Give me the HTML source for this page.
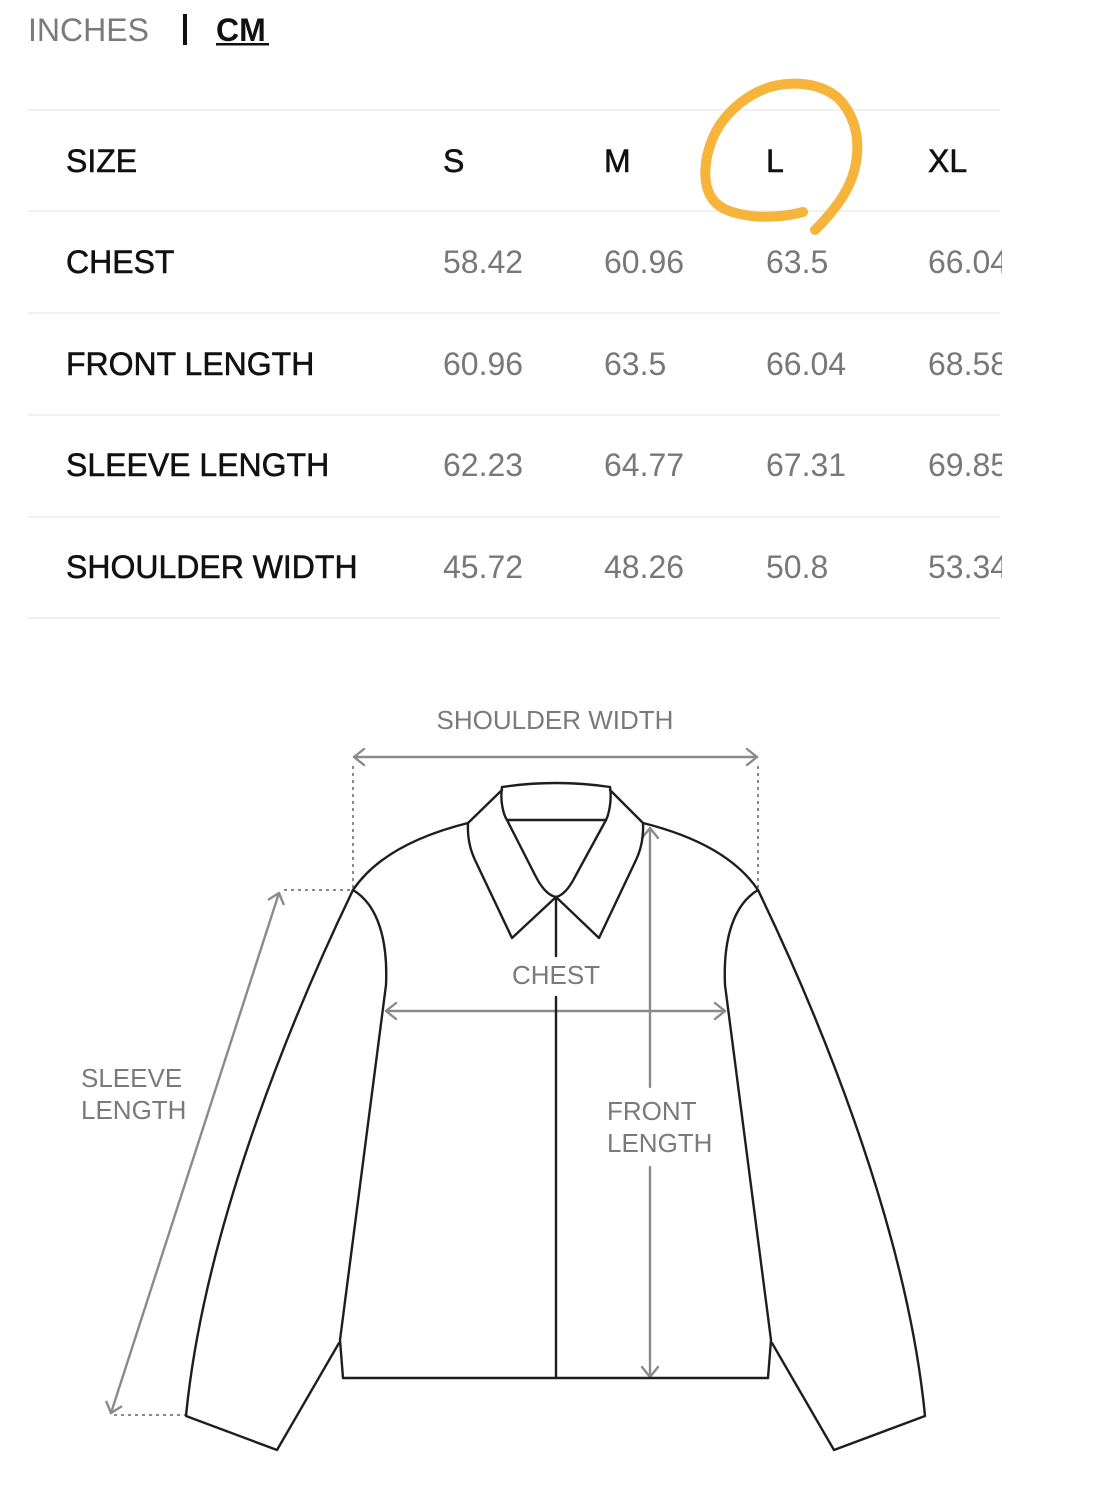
<!DOCTYPE html>
<html>
<head>
<meta charset="utf-8">
<style>
  html,body{margin:0;padding:0;background:#fff;}
  body{width:1109px;height:1500px;overflow:hidden;}
  svg{display:block;}
  .lbl{font-family:"Liberation Sans",Arial,sans-serif;font-size:32px;fill:#111;stroke:#111;stroke-width:0.55px;}
  .val{font-family:"Liberation Sans",Arial,sans-serif;font-size:32px;fill:#787878;}
  .dg{font-family:"Liberation Sans",Arial,sans-serif;font-size:26px;fill:#7a7a7a;}
</style>
</head>
<body>
<svg width="1109" height="1500" viewBox="0 0 1109 1500" xmlns="http://www.w3.org/2000/svg">
  <defs>
    <clipPath id="tbl"><rect x="0" y="60" width="1002" height="600"/></clipPath>
  </defs>

  <!-- Header -->
  <text x="28" y="41" font-family="Liberation Sans, Arial, sans-serif" font-size="32" fill="#7a7a7a">INCHES</text>
  <rect x="183" y="14" width="4" height="31" fill="#111"/>
  <text x="216" y="41" font-family="Liberation Sans, Arial, sans-serif" font-size="32" font-weight="bold" fill="#111">CM</text>
  <rect x="216" y="43" width="53" height="2.5" fill="#111"/>

  <!-- Row separators -->
  <g fill="#f1f1f1">
    <rect x="28" y="109" width="972" height="2"/>
    <rect x="28" y="210" width="972" height="2"/>
    <rect x="28" y="312" width="972" height="2"/>
    <rect x="28" y="414" width="972" height="2"/>
    <rect x="28" y="516" width="972" height="2"/>
    <rect x="28" y="617" width="972" height="2"/>
  </g>

  <g clip-path="url(#tbl)">
    <text class="lbl" x="66" y="172">SIZE</text>
    <text class="lbl" x="443" y="172">S</text>
    <text class="lbl" x="604" y="172">M</text>
    <text class="lbl" x="766" y="172">L</text>
    <text class="lbl" x="928" y="172">XL</text>

    <text class="lbl" x="66" y="273">CHEST</text>
    <text class="val" x="443" y="273">58.42</text>
    <text class="val" x="604" y="273">60.96</text>
    <text class="val" x="766" y="273">63.5</text>
    <text class="val" x="928" y="273">66.04</text>

    <text class="lbl" x="66" y="375">FRONT LENGTH</text>
    <text class="val" x="443" y="375">60.96</text>
    <text class="val" x="604" y="375">63.5</text>
    <text class="val" x="766" y="375">66.04</text>
    <text class="val" x="928" y="375">68.58</text>

    <text class="lbl" x="66" y="476">SLEEVE LENGTH</text>
    <text class="val" x="443" y="476">62.23</text>
    <text class="val" x="604" y="476">64.77</text>
    <text class="val" x="766" y="476">67.31</text>
    <text class="val" x="928" y="476">69.85</text>

    <text class="lbl" x="66" y="578">SHOULDER WIDTH</text>
    <text class="val" x="443" y="578">45.72</text>
    <text class="val" x="604" y="578">48.26</text>
    <text class="val" x="766" y="578">50.8</text>
    <text class="val" x="928" y="578">53.34</text>
  </g>

  <!-- Diagram labels -->
  <text class="dg" x="555" y="729" text-anchor="middle">SHOULDER WIDTH</text>
  <text class="dg" x="556" y="984" text-anchor="middle">CHEST</text>
  <text class="dg" x="81" y="1087">SLEEVE</text>
  <text class="dg" x="81" y="1119">LENGTH</text>
  <text class="dg" x="607" y="1120">FRONT</text>
  <text class="dg" x="607" y="1152">LENGTH</text>

  <!-- Measurement lines -->
  <g stroke="#8a8a8a" stroke-width="2.4" fill="none" stroke-linecap="round" stroke-linejoin="round">
    <path d="M354,757 L757,757"/>
    <path d="M364,749 L354,757 L364,765"/>
    <path d="M747,749 L757,757 L747,765"/>
    <path d="M386,1011 L725,1011"/>
    <path d="M396,1003 L386,1011 L396,1019"/>
    <path d="M715,1003 L725,1011 L715,1019"/>
    <path d="M650,828 L650,1087"/>
    <path d="M650,1167 L650,1377"/>
    <path d="M642,838 L650,828 L658,838"/>
    <path d="M642,1367 L650,1377 L658,1367"/>
    <path d="M279,893 L111,1413"/>
    <path d="M268.8,899.4 L279,893 L283.5,904.1"/>
    <path d="M121.2,1406.6 L111,1413 L106.5,1401.9"/>
  </g>
  <g stroke="#8a8a8a" stroke-width="2" fill="none" stroke-dasharray="3,4">
    <path d="M353,766 L353,888"/>
    <path d="M758,766 L758,888"/>
    <path d="M284,890 L351,890"/>
    <path d="M114,1415 L185,1415"/>
  </g>

  <!-- Jacket -->
  <g stroke="#1e1e1e" stroke-width="2.4" fill="none" stroke-linejoin="round" stroke-linecap="round">
    <path d="M353,890 Q384,844 468,823"/>
    <path d="M758,890 Q727,844 643,823"/>
    <path d="M353,890 C378,905 388,940 386,985 L340,1340 L343,1378 L768,1378 L771,1340 L725,985 C723,940 733,905 758,890"/>
    <path d="M353,890 C300,1000 205,1220 186,1416 L277,1450 L339,1343"/>
    <path d="M758,890 C811,1000 906,1220 925,1416 L834,1450 L772,1343"/>
    <path d="M502,787 Q556,779 610,787"/>
    <path d="M502,787 C500,800 503,814 507,820"/>
    <path d="M610,787 C612,800 609,814 606,820"/>
    <path d="M507,820 L606,820"/>
    <path d="M502,790 L468,823 Q467,843 475,860 L512,938 L556,897"/>
    <path d="M610,790 L643,823 Q644,843 636,860 L599,938 L556,897"/>
    <path d="M507,820 L535,875 Q545,895 556,897"/>
    <path d="M606,820 L576,875 Q566,895 556,897"/>
    <path d="M556,897 L556,956"/>
    <path d="M556,997 L556,1378"/>
  </g>

  <!-- Orange annotation circle -->
  <path d="M803,212 C785,217 760,218 745,215 C728,212 716,207 710,195 C703,182 704,160 712,140 C722,115 745,95 770,87 C795,80 822,84 838,98 C852,112 859,132 857,155 C855,178 845,195 833,210 C826,219 820,225 815,230"
        fill="none" stroke="#F6B43B" stroke-width="10" stroke-linecap="round" stroke-linejoin="round"/>
</svg>
</body>
</html>
